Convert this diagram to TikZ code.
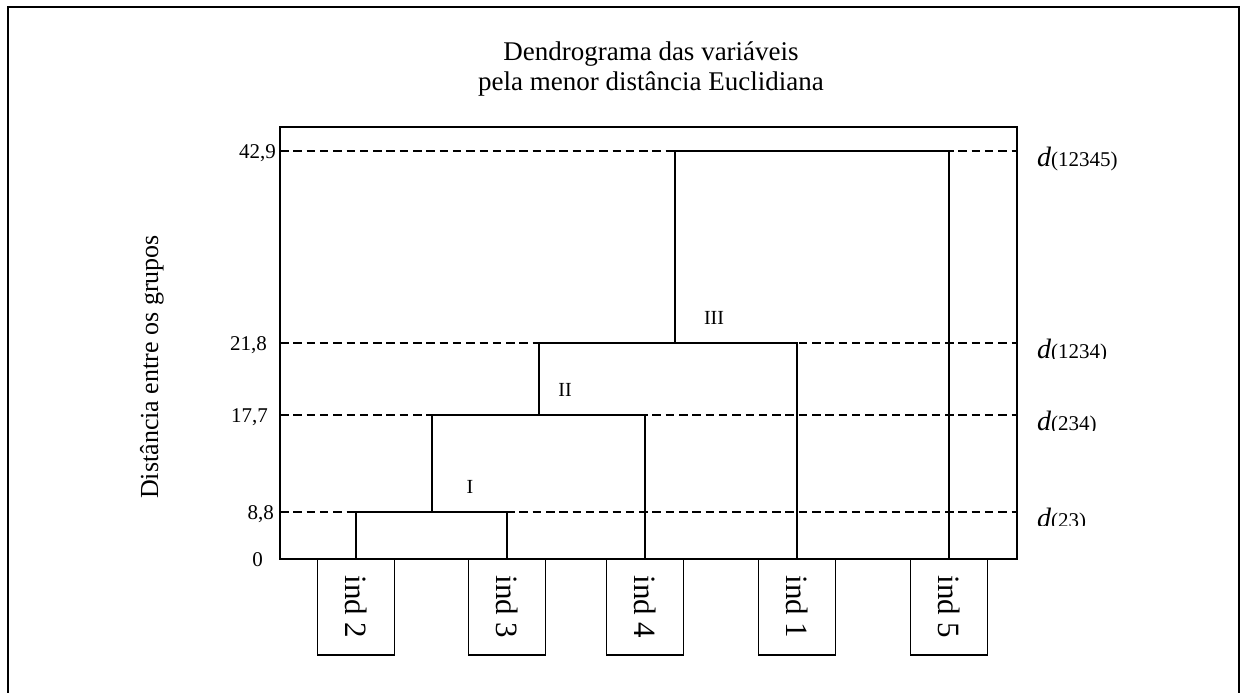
\documentclass[tikz,border=0pt]{standalone}
\usepackage{fontspec}
\setmainfont{Liberation Serif}
\newcommand{\fs}[1]{\fontsize{#1}{#1}\selectfont}
\tikzset{
  frame/.style={line width=2pt},
  plotbox/.style={draw, line width=1.6pt, minimum width=737pt, minimum height=432pt, inner sep=0pt, outer sep=0pt},
  level/.style={line width=1.3pt, dash pattern=on 8.5pt off 4.8pt},
  link/.style={line width=2.6pt, line join=miter},
  leaf/.style={draw, line width=1.3pt, minimum width=77pt, minimum height=96pt, inner sep=0pt, outer sep=0pt, anchor=north, font=\fs{31}},
  tick/.style={anchor=base east, inner sep=0pt, font=\fs{21}},
  roman/.style={inner sep=0pt, font=\fs{20}},
  dlab/.style={anchor=base west, inner sep=0pt},
  ttl/.style={anchor=base, inner sep=0pt, font=\fs{27}}
}
\begin{document}
\begin{tikzpicture}[x=1pt, y=-1pt]
\useasboundingbox (0,0) rectangle (1240,693);
\clip (0,0) rectangle (1240,693);

% outer frame (its lower edge lies below the page)
\draw[frame] (7.5,7) rectangle (1238.5,720);

% title
\node[ttl] (t1) at (651,61) {Dendrograma das variáveis};
\node[ttl] (t2) at (651,91) {pela menor distância Euclidiana};

% axis label
\node[rotate=90, anchor=base, inner sep=0pt, font=\fs{26}] (ylab) at (158,367) {Distância entre os grupos};

% plot area
\node[plotbox] (plot) at (648.5,343) {};

% heights of the fusion levels
\coordinate (h0) at (0,559);
\coordinate (h1) at (0,512);
\coordinate (h2) at (0,415);
\coordinate (h3) at (0,343);
\coordinate (h4) at (0,151);

% dashed reference levels
\foreach \h in {h1,h2,h3,h4}
  \draw[level] (plot.west |- \h) -- (plot.east |- \h);

% level values
\node[tick] (v4) at (276,158) {42,9};
\node[tick] (v3) at (267,350) {21,8};
\node[tick] (v2) at (268,422) {17,7};
\node[tick] (v1) at (274,519) {8,8};
\node[tick] (v0) at (263,566) {0};

% individuals
\node[leaf] (i2) at (356,559) {\rotatebox{-90}{ind 2}};
\node[leaf] (i3) at (507,559) {\rotatebox{-90}{ind 3}};
\node[leaf] (i4) at (645,559) {\rotatebox{-90}{ind 4}};
\node[leaf] (i1) at (797,559) {\rotatebox{-90}{ind 1}};
\node[leaf] (i5) at (949,559) {\rotatebox{-90}{ind 5}};

% fusion points
\coordinate (m1) at (432,512);
\coordinate (m2) at (539,415);
\coordinate (m3) at (675,343);
\coordinate (m4) at (812,151);

% dendrogram
\draw[link] (i2.north) |- (m1) -| (i3.north);
\draw[link] (m1) |- (m2) -| (i4.north);
\draw[link] (m2) |- (m3) -| (i1.north);
\draw[link] (m3) |- (m4) -| (i5.north);

% group labels
\node[roman] (g1) at (470,487) {I};
\node[roman] (g2) at (565,390) {II};
\node[roman] (g3) at (714,318) {III};

% distance labels
\node[dlab] (d4) at (1037,166) {\fs{28}\itshape d\upshape\fs{21}(12345)};
\begin{scope}
  \clip (1020,320) rectangle (1160,358);
  \node[dlab] (d3) at (1037,358.5) {\fs{28}\itshape d\upshape\fs{21}(1234)};
\end{scope}
\begin{scope}
  \clip (1020,395) rectangle (1160,430);
  \node[dlab] (d2) at (1037,430.5) {\fs{28}\itshape d\upshape\fs{21}(234)};
\end{scope}
\begin{scope}
  \clip (1020,490) rectangle (1160,525);
  \node[dlab] (d1) at (1037,527) {\fs{28}\itshape d\upshape\fs{21}(23)};
\end{scope}
\end{tikzpicture}
\end{document}
